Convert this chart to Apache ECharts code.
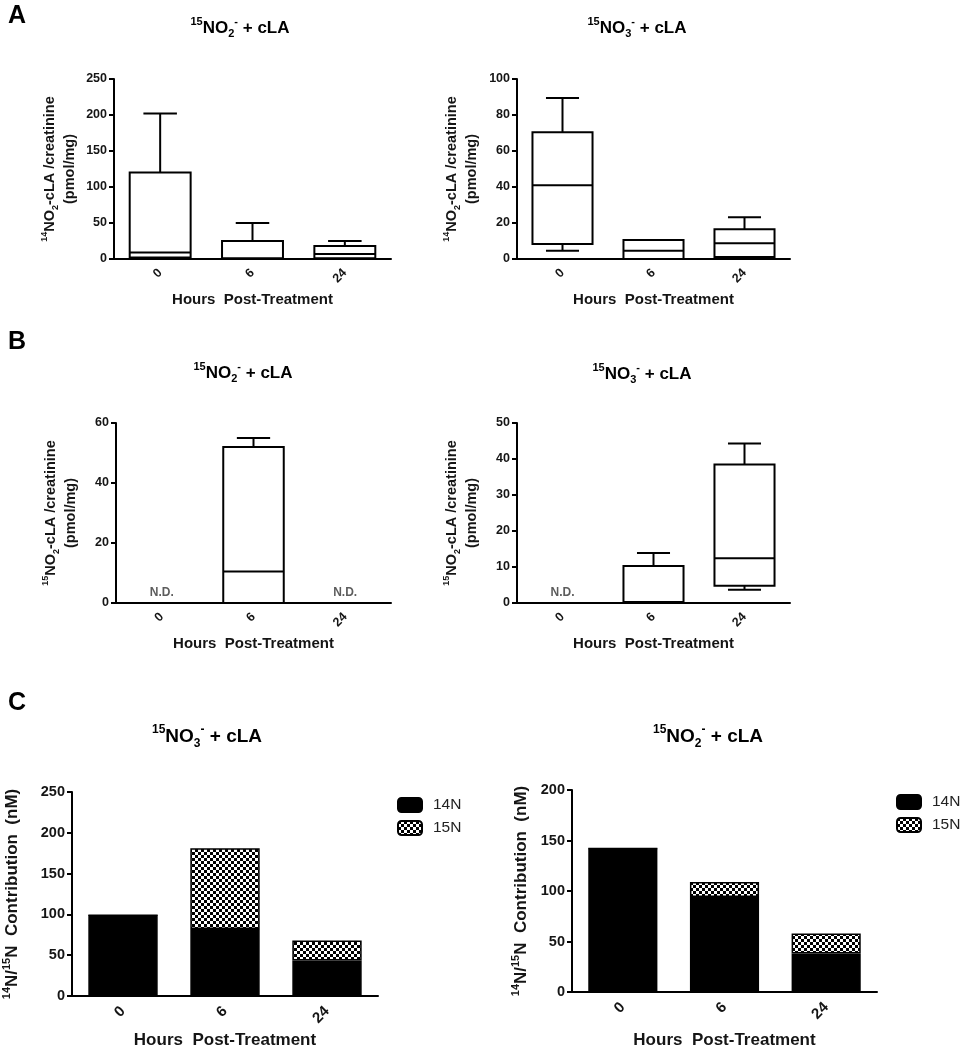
<!DOCTYPE html>
<html><head><meta charset="utf-8">
<script src="https://cdn.jsdelivr.net/npm/echarts@6/dist/echarts.min.js"></script>
<style>html,body{margin:0;padding:0;background:#fff}#c{width:960px;height:1050px}</style>
</head><body><div id="c"></div>
<script>
// ---------- data ----------
const hours = ['0', '6', '24'];
// box plots: [min, Q1, median, Q3, max]; null = N.D.
const aNO2Box = [[0, 2, 9, 120, 202], [0, 0, 1, 25, 50], [0, 1, 7, 18, 25]];
const aNO3Box = [[4.6, 8.3, 41, 70.4, 89.4], [0, 0, 4.6, 10.5, 10.5], [0.5, 1.1, 8.7, 16.5, 23.2]];
const bNO2Box = [null, [0, 0, 10.5, 52, 55], null];
const bNO3Box = [null, [0, 0, 0.3, 10.3, 13.9], [3.7, 4.8, 12.4, 38.5, 44.3]];
const bNO2ND = ['0', '24'];
const bNO3ND = ['0'];
// stacked contributions (nM)
const cNO3_14N = [99, 82, 43.5];
const cNO3_15N = [0, 99, 24.5];
const cNO2_14N = [142, 94, 38];
const cNO2_15N = [0, 15, 20];

// ---------- styling ----------
const FF = '"Liberation Sans", Arial, sans-serif';
const TXT = '#151515';
function rich(fs) {
  return {
    b: {fontSize: fs, fontWeight: 'bold', fontFamily: FF, color: TXT, lineHeight: Math.round(fs * 1.35)},
    sup: {fontSize: Math.round(fs * 0.65), fontWeight: 'bold', fontFamily: FF, color: TXT, verticalAlign: 'top'},
    sub: {fontSize: Math.round(fs * 0.65), fontWeight: 'bold', fontFamily: FF, color: TXT, verticalAlign: 'bottom'}
  };
}
const pat = document.createElement('canvas');
pat.width = 6; pat.height = 6;
(function () {
  const g = pat.getContext('2d');
  g.fillStyle = '#fff'; g.fillRect(0, 0, 6, 6);
  g.fillStyle = '#000'; g.fillRect(0, 0, 3, 3); g.fillRect(3, 3, 3, 3);
})();

const grids = [
  {left: 114, top: 79, width: 277, height: 180},
  {left: 517, top: 79, width: 273, height: 180},
  {left: 116, top: 423, width: 275, height: 180},
  {left: 517, top: 423, width: 273, height: 180},
  {left: 68, top: 792, width: 310, height: 205},
  {left: 572, top: 790, width: 305, height: 203}
];
const yRanges = [[250, 50], [100, 20], [60, 20], [50, 10], [250, 50], [200, 50]];
const yNames = [
  '{sup|14}{b|NO}{sub|2}{b|-cLA /creatinine}\n{b|(pmol/mg)}',
  '{sup|14}{b|NO}{sub|2}{b|-cLA /creatinine}\n{b|(pmol/mg)}',
  '{sup|15}{b|NO}{sub|2}{b|-cLA /creatinine}\n{b|(pmol/mg)}',
  '{sup|15}{b|NO}{sub|2}{b|-cLA /creatinine}\n{b|(pmol/mg)}',
  '{sup|14}{b|N/}{sup|15}{b|N  Contribution  (nM)}',
  '{sup|14}{b|N/}{sup|15}{b|N  Contribution  (nM)}'
];
const yNameGap = [34, 35, 35, 35, 48, 39];
const xNameGap = [33, 33, 33, 33, 36, 40];

const xAxes = grids.map((g, i) => {
  const big = i >= 4;
  return {
    gridIndex: i, type: 'category', data: hours, boundaryGap: true,
    axisLine: {lineStyle: {color: '#000', width: 2}},
    axisTick: {alignWithLabel: true, length: 5, lineStyle: {color: '#000', width: 2}},
    axisLabel: {rotate: 45, margin: big ? 13 : 12, fontSize: big ? 15 : 12.5, fontWeight: 'bold', color: TXT, fontFamily: FF},
    name: 'Hours  Post-Treatment', nameLocation: 'middle', nameGap: xNameGap[i],
    nameTextStyle: {fontSize: big ? 17 : 15, fontWeight: 'bold', color: TXT, fontFamily: FF}
  };
});
const yAxes = grids.map((g, i) => {
  const big = i >= 4;
  return {
    gridIndex: i, type: 'value', min: 0, max: yRanges[i][0], interval: yRanges[i][1],
    splitLine: {show: false},
    axisLine: {show: true, lineStyle: {color: '#000', width: 2}},
    axisTick: {show: true, length: 5, lineStyle: {color: '#000', width: 2}},
    axisLabel: {margin: 7, fontSize: big ? 14.5 : 12.5, fontWeight: 'bold', color: TXT, fontFamily: FF},
    name: yNames[i], nameLocation: 'middle', nameRotate: 90, nameGap: yNameGap[i],
    nameTextStyle: {rich: rich(big ? 17 : 14.5), align: 'center'}
  };
});

function boxRender(params, api) {
  const xi = api.value(0);
  const mn = api.value(1), q1 = api.value(2), md = api.value(3), q3 = api.value(4), mx = api.value(5);
  const band = api.size([1, 0])[0];
  const bw = band * 0.66, cw = bw * 0.55;
  const cx = api.coord([xi, 0])[0];
  const y = v => api.coord([xi, v])[1];
  const st = {stroke: '#000', lineWidth: 2, fill: null};
  const line = (x1, y1, x2, y2) => ({type: 'line', shape: {x1, y1, x2, y2}, style: st});
  const ch = [];
  if (mx > q3) { ch.push(line(cx, y(q3), cx, y(mx))); ch.push(line(cx - cw / 2, y(mx), cx + cw / 2, y(mx))); }
  if (mn < q1) { ch.push(line(cx, y(q1), cx, y(mn))); ch.push(line(cx - cw / 2, y(mn), cx + cw / 2, y(mn))); }
  ch.push({type: 'rect', shape: {x: cx - bw / 2, y: y(q3), width: bw, height: y(q1) - y(q3)}, style: {stroke: '#000', lineWidth: 2, fill: '#fff'}});
  ch.push(line(cx - bw / 2, y(md), cx + bw / 2, y(md)));
  return {type: 'group', children: ch};
}
function boxSeries(arr, gi) {
  const data = [];
  arr.forEach((b, i) => { if (b) data.push([i].concat(b)); });
  return {type: 'custom', xAxisIndex: gi, yAxisIndex: gi, renderItem: boxRender, clip: false,
    encode: {x: 0, y: [1, 2, 3, 4, 5]}, data, silent: true};
}
function ndSeries(cats, gi) {
  return {type: 'scatter', xAxisIndex: gi, yAxisIndex: gi, symbolSize: 0, silent: true,
    data: cats.map(c => [c, 0]),
    label: {show: true, position: 'top', distance: 4, formatter: 'N.D.', fontSize: 12, fontWeight: 'bold', color: '#333', fontFamily: FF}};
}
function barPair(n14, n15, gi) {
  return [
    {name: '14N', type: 'bar', xAxisIndex: gi, yAxisIndex: gi, stack: 's' + gi, barWidth: '68%', data: n14,
      itemStyle: {color: '#000', borderColor: '#000', borderWidth: 1.5}},
    {name: '15N', type: 'bar', xAxisIndex: gi, yAxisIndex: gi, stack: 's' + gi, barWidth: '68%', data: n15,
      itemStyle: {color: {image: pat, repeat: 'repeat'}, borderColor: '#000', borderWidth: 1.5}}
  ];
}

function txt(x, y, t, fs, align) {
  return {type: 'text', x, y, style: {text: t, rich: rich(fs), align: align || 'center', verticalAlign: 'middle'}};
}
function letter(x, y, t) {
  return {type: 'text', x, y, style: {text: t, fontSize: 25, fontWeight: 'bold', fontFamily: FF, fill: '#000'}};
}
const title = (n) => '{sup|15}{b|NO}{sub|' + n + '}{sup|-}{b| + cLA}';

const legendBase = {orient: 'vertical', icon: 'roundRect', itemWidth: 24, itemHeight: 14, itemGap: 7, padding: 0,
  selectedMode: false, data: ['14N', '15N'],
  textStyle: {fontSize: 15.5, color: '#222', fontFamily: FF, padding: [0, 0, 0, 6]}};

const option = {
  animation: false,
  grid: grids,
  xAxis: xAxes,
  yAxis: yAxes,
  legend: [Object.assign({left: 397, top: 797}, legendBase), Object.assign({left: 896, top: 794}, legendBase)],
  graphic: [
    letter(8, 4, 'A'), letter(8, 330, 'B'), letter(8, 691, 'C'),
    txt(240, 28, title('2'), 17), txt(637, 28, title('3'), 17),
    txt(243, 373, title('2'), 17), txt(642, 374, title('3'), 17),
    txt(207, 737, title('3'), 19), txt(708, 737, title('2'), 19)
  ],
  series: [
    boxSeries(aNO2Box, 0), boxSeries(aNO3Box, 1), boxSeries(bNO2Box, 2), boxSeries(bNO3Box, 3),
    ndSeries(bNO2ND, 2), ndSeries(bNO3ND, 3)
  ].concat(barPair(cNO3_14N, cNO3_15N, 4), barPair(cNO2_14N, cNO2_15N, 5))
};
const chart = echarts.init(document.getElementById('c'), null, {renderer: 'canvas'});
chart.setOption(option);
</script></body></html>
